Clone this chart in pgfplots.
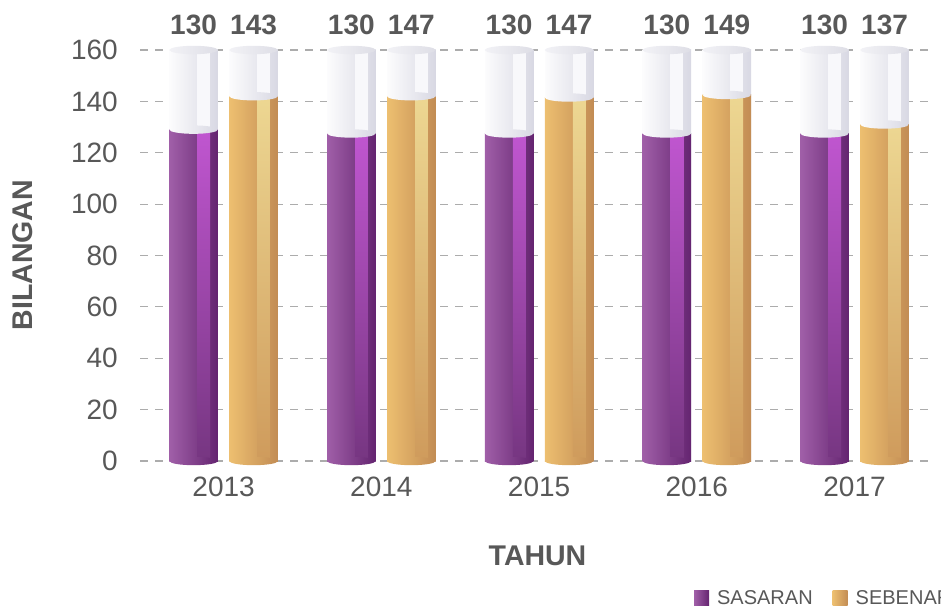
\documentclass[border=0pt]{standalone}
\usepackage{fontspec}
\setmainfont{Liberation Sans}
\usepackage{pgfplots}
\usepackage{pgfplotstable}
\pgfplotsset{compat=1.18}
\definecolor{txt}{RGB}{88,88,88}
\definecolor{gridc}{RGB}{172,172,172}
\definecolor{pL}{RGB}{160,95,168}
\definecolor{pR}{RGB}{100,36,112}
\definecolor{pH}{RGB}{192,86,208}
\definecolor{pHb}{RGB}{118,54,129}
\definecolor{oL}{RGB}{237,191,112}
\definecolor{oR}{RGB}{194,140,84}
\definecolor{oH}{RGB}{237,215,146}
\definecolor{oHb}{RGB}{207,155,92}
\definecolor{wL}{RGB}{252,252,253}
\definecolor{wM}{RGB}{241,241,245}
\definecolor{wR}{RGB}{216,216,227}
\definecolor{wS}{RGB}{248,248,251}
\definecolor{cL}{RGB}{242,242,246}
\definecolor{cR}{RGB}{222,222,230}
\newcommand\defcap[3]{%
 \pgfdeclarehorizontalshading{sh#1}{100bp}{color(0bp)=(#2); color(25bp)=(#2); color(75bp)=(#3); color(100bp)=(#3)}%
 \pgfdeclareplotmark{#1}{\pgfpathellipse{\pgfpointorigin}{\pgfqpoint{24.3pt}{0pt}}{\pgfqpoint{0pt}{4.2pt}}\pgfshadepath{sh#1}{0}\pgfusepath{discard}}}
\defcap{capTop}{cL}{cR}
\defcap{capF}{wL}{wR}
\defcap{capP}{pL}{pR}
\defcap{capO}{oL}{oR}
\pgfplotstableread{
x v lab
0 129 130
1 127.5 130
2 127.5 130
3 127.5 130
4 127.5 130
}\purp
\pgfplotstableread{
x v lab
0 142 143
1 142 147
2 141.5 147
3 142.5 149
4 131 137
}\oran
\begin{document}
\begin{tikzpicture}
\useasboundingbox (0,0) rectangle (941pt,607pt);
\begin{axis}[
 at={(140pt,146pt)}, anchor=south west,
 scale only axis, width=795pt, height=411pt,
 xmin=-0.53, xmax=4.51, ymin=0, ymax=160,
 clip=false,
 axis line style={draw=none},
 major tick length=0pt,
 xtick={0,1,2,3,4}, xticklabels={2013,2014,2015,2016,2017},
 ytick={0,20,...,160},
 ymajorgrids, major grid style={draw=gridc, line width=1.2pt, dash pattern=on 8pt off 7pt},
 tick label style={font=\fontsize{28}{32}\selectfont, text=txt},
 /pgf/number format/assume math mode=true,
 yticklabel style={anchor=east, inner sep=0pt, xshift=-22pt},
 xticklabel style={anchor=north, inner sep=0pt, yshift=-16pt},
 xlabel={TAHUN}, ylabel={BILANGAN},
 label style={font=\bfseries\fontsize{28.5}{32}\selectfont, text=txt},
 xlabel style={at={(axis description cs:0.5,-0.231)}, anchor=center},
 ylabel style={at={(axis description cs:-0.147,0.501)}, anchor=center},
 legend columns=2,
 legend style={at={(axis description cs:0.697,-0.3333)}, anchor=west, draw=none, fill=none, inner sep=0pt, outer sep=0pt, font=\fontsize{20}{24}\selectfont, text=txt,
   /tikz/every odd column/.append style={column sep=6pt},
   /tikz/every even column/.append style={column sep=18pt}},
 legend image code/.code={\path[#1] (0pt,-7.5pt) rectangle (15pt,7.5pt);},
 nodes near coords style={font=\bfseries\fontsize{28}{32}\selectfont, text=txt, inner sep=0pt, yshift=15pt},
]
\addplot[only marks, forget plot, mark=capP] table[x expr=\thisrow{x}-0.19, y expr=0]{\purp};
\addplot[only marks, forget plot, mark=capO] table[x expr=\thisrow{x}+0.19, y expr=0]{\oran};
\pgfplotsinvokeforeach{0,1,2,3,4}{
% ---------- SASARAN ----------
\addplot[ybar, forget plot, bar width=0.308, bar shift=-0.19, draw=none, left color=wL, middle color=wM, right color=wR,
  nodes near coords, point meta=explicit symbolic, every node near coord/.append style={xshift=-30pt},
  restrict x to domain=#1:#1] table[x=x, y expr=160, meta=lab]{\purp};
\addplot[ybar, forget plot, bar width=0.082, bar shift=-0.126, draw=none, fill=wS, restrict x to domain=#1:#1] table[x=x, y expr=160]{\purp};
\addplot[ybar, forget plot, bar width=0.308, bar shift=-0.19, draw=none, left color=pL, right color=pR, restrict x to domain=#1:#1] table[x=x, y=v]{\purp};
\addplot[ybar, forget plot, bar width=0.08, bar shift=-0.126, draw=none, top color=pH, middle color=pHb, bottom color=pHb, restrict x to domain=#1:#1] table[x=x, y=v]{\purp};
% ---------- SEBENAR ----------
\addplot[ybar, forget plot, bar width=0.308, bar shift=0.19, draw=none, left color=wL, middle color=wM, right color=wR,
  nodes near coords, point meta=explicit symbolic, every node near coord/.append style={xshift=30pt},
  restrict x to domain=#1:#1] table[x=x, y expr=160, meta=lab]{\oran};
\addplot[ybar, forget plot, bar width=0.082, bar shift=0.254, draw=none, fill=wS, restrict x to domain=#1:#1] table[x=x, y expr=160]{\oran};
\addplot[ybar, forget plot, bar width=0.308, bar shift=0.19, draw=none, left color=oL, right color=oR, restrict x to domain=#1:#1] table[x=x, y=v]{\oran};
\addplot[ybar, forget plot, bar width=0.08, bar shift=0.254, draw=none, top color=oH, middle color=oHb, bottom color=oHb, restrict x to domain=#1:#1] table[x=x, y=v]{\oran};
}
\addplot[only marks, forget plot, mark=capTop] table[x expr=\thisrow{x}-0.19, y expr=160]{\purp};
\addplot[only marks, forget plot, mark=capTop] table[x expr=\thisrow{x}+0.19, y expr=160]{\oran};
\addplot[only marks, forget plot, mark=capF] table[x expr=\thisrow{x}-0.19, y=v]{\purp};
\addplot[only marks, forget plot, mark=capF] table[x expr=\thisrow{x}+0.19, y=v]{\oran};
\addlegendimage{draw=none, left color=pL, right color=pR}
\addlegendentry{SASARAN}
\addlegendimage{draw=none, left color=oL, right color=oR}
\addlegendentry{SEBENAR}
\end{axis}
\end{tikzpicture}
\end{document}
